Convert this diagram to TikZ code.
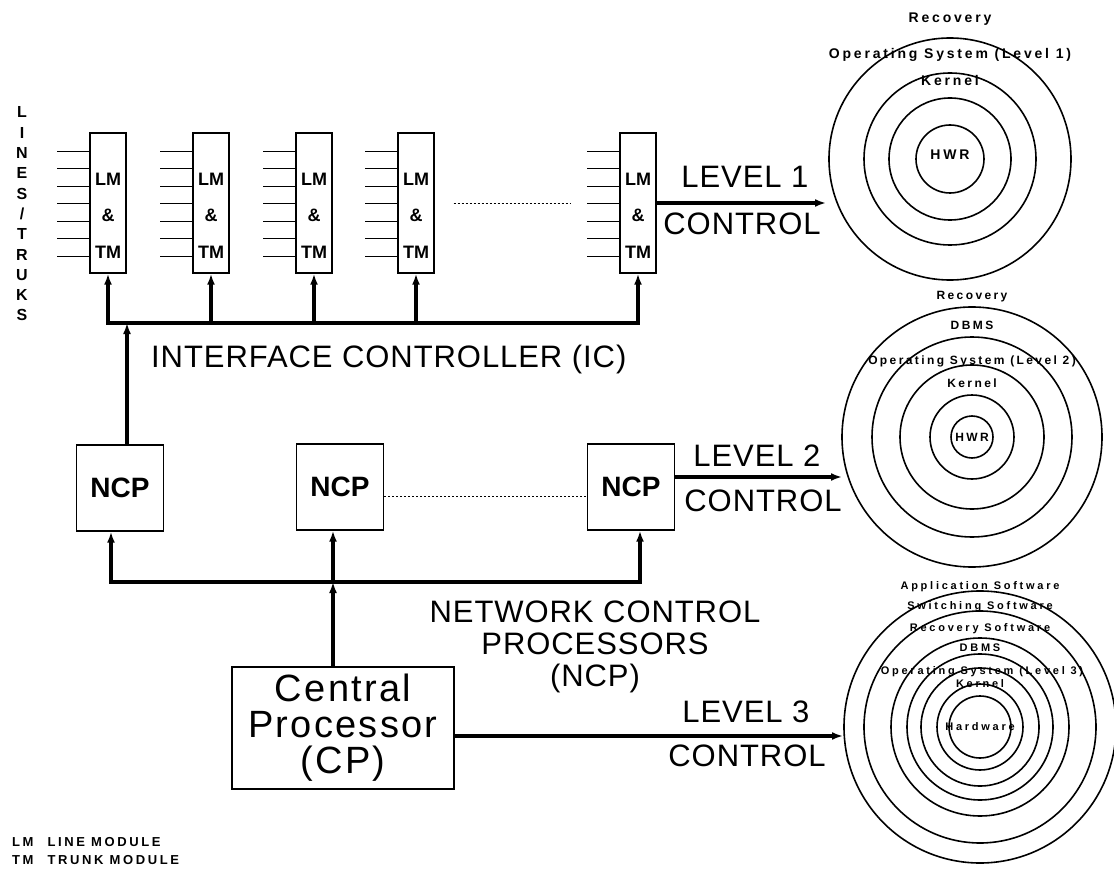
\documentclass[tikz,border=0pt]{standalone}
\usepackage{fontspec}
\setmainfont{Liberation Sans}
\newfontfamily\bigfont{Liberation Sans}[LetterSpace=3]
\newfontfamily\cpfont{Liberation Sans}[LetterSpace=6]
\newfontfamily\ringfont{Liberation Sans Bold}[LetterSpace=20]
\newfontfamily\ringfontw{Liberation Sans Bold}[LetterSpace=25]
\usetikzlibrary{arrows.meta}
\tikzset{Hd/.tip={Latex[length=11pt,width=8pt]}}

\begin{document}
\begin{tikzpicture}[x=1pt,y=-1pt,
        modbox/.style={draw,line width=1.4pt,minimum width=36pt,minimum height=140pt,inner sep=0pt},
        modtext/.style={font=\bfseries\fontsize{18}{36.5}\selectfont,align=center,inner sep=0pt},
        ncpbox/.style={draw,line width=1.4pt,minimum width=87pt,minimum height=86pt,inner sep=0pt,font=\bfseries\fontsize{28}{32}\selectfont},
        cpbox/.style={draw,line width=1.4pt,minimum width=222pt,minimum height=122pt,inner sep=0pt,align=center,font=\cpfont\fontsize{38}{36}\selectfont},
        bigtext/.style={font=\bigfont\fontsize{31}{32}\selectfont,inner sep=0pt},
        bus/.style={line width=3.5pt},
        stub/.style={line width=1.3pt},
        dotline/.style={line width=0.9pt,dash pattern=on 2pt off 2pt},
        ring/.style={line width=1.6pt},
        ringA/.style={font=\ringfont\fontsize{14}{16}\selectfont,anchor=base,inner sep=0pt},
        ringB/.style={font=\ringfont\fontsize{12}{14}\selectfont,anchor=base,inner sep=0pt},
        ringC/.style={font=\ringfontw\fontsize{11}{13}\selectfont,anchor=base,inner sep=0pt}]
        \useasboundingbox (0,0) rectangle (1114,869);
        % Line and trunk modules
        \node[modbox] (lm1) at (108,203) {};
        \node[modbox] (lm2) at (211,203) {};
        \node[modbox] (lm3) at (314,203) {};
        \node[modbox] (lm4) at (416,203) {};
        \node[modbox] (lm5) at (638,203) {};
        \foreach \m in {1,...,5} {
            \node[modtext] (lmt\m) at ([yshift=-12.5]lm\m.center) {LM\\\&\\TM};
            \foreach \k in {0,...,6}
                \draw[stub] (lm\m.north west) ++(0,19+17.5*\k) -- ++(-32,0);
        }
        \draw[dotline] ([xshift=19]lm4.east) -- ([xshift=-49]lm5.west);
        \node[font=\bfseries\fontsize{16}{20.3}\selectfont,align=center,inner sep=0pt] (lines) at (22,214) {L\\I\\N\\E\\S\\/\\T\\R\\U\\K\\S};
        % Interface controller bus
        \coordinate (icl) at (108,323);
        \coordinate (icr) at (638,323);
        \coordinate (icn) at (127,323);
        \draw[bus,Hd-Hd] (lm1.south) -- (icl) -- (icr) -- (lm5.south);
        \foreach \m in {2,3,4}
            \draw[bus,-Hd] (lm\m.south |- icl) -- (lm\m.south);
        \node[bigtext,anchor=base west] (ictext) at (151,367) {INTERFACE CONTROLLER (IC)};
        % Network control processors
        \node[ncpbox] (ncp1) at (120,488) {NCP};
        \node[ncpbox] (ncp2) at (340,487) {NCP};
        \node[ncpbox] (ncp3) at (631,487) {NCP};
        \draw[bus,-Hd] (ncp1.north -| icn) -- (icn);
        \draw[dotline] ([yshift=-9]ncp2.east) -- ([yshift=-9]ncp3.west);
        \coordinate (ncpl) at (111,582);
        \coordinate (ncpm) at (333,582);
        \coordinate (ncpr) at (640,582);
        \draw[bus,Hd-Hd] (ncpl |- ncp1.south) -- (ncpl) -- (ncpr) -- (ncpr |- ncp3.south);
        \draw[bus,-Hd] (ncpm) -- (ncpm |- ncp2.south);
        \node[bigtext,align=center] (ncptext) at (595,647) {NETWORK CONTROL\\PROCESSORS\\(NCP)};
        % Central processor
        \node[cpbox] (cp) at (343,728) {Central\\Processor\\(CP)};
        \draw[bus,-Hd] (cp.north -| ncpm) -- (ncpm);
        % Control levels
        \coordinate (lv1) at (826,203);
        \coordinate (lv2) at (842,477);
        \coordinate (lv3) at (843,736);
        \draw[bus,-Hd] (lm5.east) -- (lv1);
        \draw[bus,-Hd] (ncp3.east |- lv2) -- (lv2);
        \draw[bus,-Hd] (cp.east |- lv3) -- (lv3);
        \node[bigtext,anchor=base] (lv1a) at (745,188) {LEVEL 1};
        \node[bigtext,anchor=base] (lv1b) at (742,235) {CONTROL};
        \node[bigtext,anchor=base] (lv2a) at (757,466) {LEVEL 2};
        \node[bigtext,anchor=base] (lv2b) at (763,511) {CONTROL};
        \node[bigtext,anchor=base] (lv3a) at (746,722) {LEVEL 3};
        \node[bigtext,anchor=base] (lv3b) at (747,766) {CONTROL};
        % Level 1 rings
        \coordinate (c1) at (950,159);
        \foreach \r in {121,86,61,34}
            \draw[ring] (c1) circle[radius=\r pt];
        \node[ringA] (r1a) at (950,23) {Recovery};
        \node[ringA] (r1b) at (950,59) {Operating System (Level 1)};
        \node[ringA] (r1c) at (950,86) {Kernel};
        \node[ringA] (r1d) at (950,160) {HWR};
        % Level 2 rings
        \coordinate (c2) at (972,437);
        \foreach \r in {130,100,72,42,21}
            \draw[ring] (c2) circle[radius=\r pt];
        \node[ringB] (r2a) at (972,299) {Recovery};
        \node[ringB] (r2b) at (972,329) {DBMS};
        \node[ringB] (r2c) at (972,364) {Operating System (Level 2)};
        \node[ringB] (r2d) at (972,387) {Kernel};
        \node[ringB] (r2e) at (972,441) {HWR};
        % Level 3 rings
        \coordinate (c3) at (980,727);
        \foreach \r in {136,116,89,73,59,43,31}
            \draw[ring] (c3) circle[radius=\r pt];
        \node[ringC] (r3a) at (980,589) {Application Software};
        \node[ringC] (r3b) at (980,609) {Switching Software};
        \node[ringC] (r3c) at (980,631) {Recovery Software};
        \node[ringC] (r3d) at (980,651) {DBMS};
        \node[ringC] (r3e) at (982,674) {Operating System (Level 3)};
        \node[ringC] (r3f) at (980,687) {Kernel};
        \node[ringC] (r3g) at (980,730) {Hardware};
        % Legend
        \node[anchor=west,inner sep=0pt,font=\ringfont\fontsize{13}{18}\selectfont] (legend) at (12,852)
            {\begin{tabular}{@{}l@{\hspace{14pt}}l@{}}LM & LINE MODULE\\TM & TRUNK MODULE\end{tabular}};
\end{tikzpicture}
\end{document}
